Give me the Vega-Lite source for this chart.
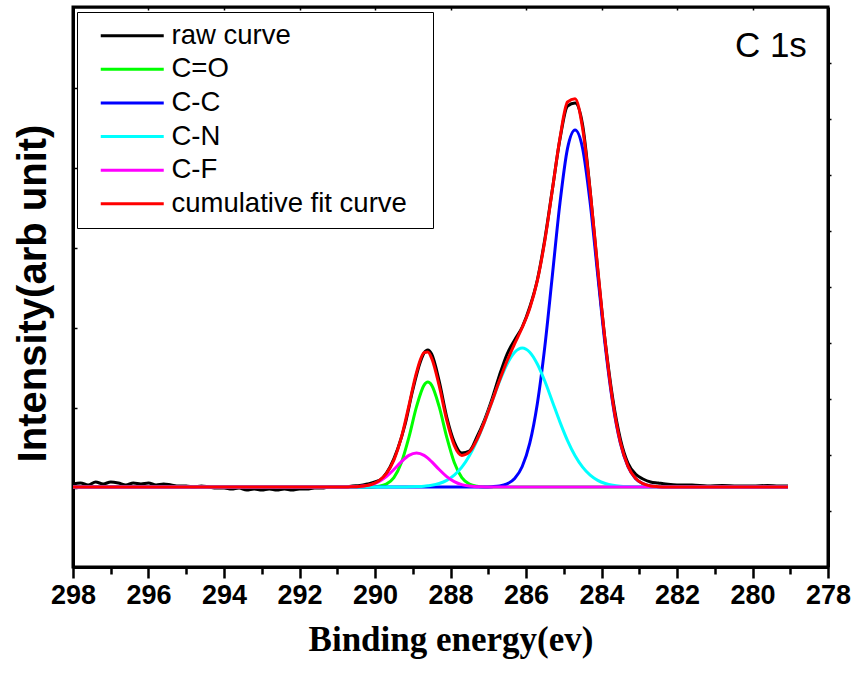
{
  "$schema": "https://vega.github.io/schema/vega-lite/v6.json",
  "width": 755,
  "height": 560,
  "autosize": {"type": "none"},
  "padding": {"left": 73, "top": 7, "right": 28, "bottom": 108},
  "background": "white",
  "config": {
    "view": {"stroke": "black", "strokeWidth": 3},
    "axis": {"grid": false, "domainColor": "black", "tickColor": "black", "labelColor": "black", "titleColor": "black"}
  },
  "resolve": {"axis": {"x": "independent", "y": "independent"}},
  "layer": [
    {
      "data": {"values": [
        {"x": 298.0, "raw": 3}, {"x": 297.8, "raw": 4}, {"x": 297.6, "raw": 2}, {"x": 297.4, "raw": 5},
        {"x": 297.2, "raw": 3}, {"x": 297.0, "raw": 5}, {"x": 296.8, "raw": 4}, {"x": 296.6, "raw": 2},
        {"x": 296.4, "raw": 4}, {"x": 296.2, "raw": 3}, {"x": 296.0, "raw": 4}, {"x": 295.8, "raw": 2},
        {"x": 295.6, "raw": 3}, {"x": 295.4, "raw": 2}, {"x": 295.2, "raw": 1}, {"x": 295.0, "raw": 1},
        {"x": 294.8, "raw": 0}, {"x": 294.6, "raw": 1}, {"x": 294.4, "raw": 0}, {"x": 294.2, "raw": -1},
        {"x": 294.0, "raw": -1}, {"x": 293.8, "raw": -2}, {"x": 293.6, "raw": -1}, {"x": 293.4, "raw": -3},
        {"x": 293.2, "raw": -2}, {"x": 293.0, "raw": -3}, {"x": 292.8, "raw": -2}, {"x": 292.6, "raw": -3},
        {"x": 292.4, "raw": -2}, {"x": 292.2, "raw": -3}, {"x": 292.0, "raw": -2}, {"x": 291.8, "raw": -2},
        {"x": 291.6, "raw": -1}, {"x": 291.4, "raw": -1}, {"x": 291.2, "raw": 0}, {"x": 291.0, "raw": 0},
        {"x": 290.8, "raw": 0}, {"x": 290.6, "raw": 1}, {"x": 290.4, "raw": 1.5}, {"x": 290.2, "raw": 3},
        {"x": 290.0, "raw": 5}, {"x": 289.8, "raw": 9}, {"x": 289.6, "raw": 20}, {"x": 289.4, "raw": 38},
        {"x": 289.2, "raw": 63}, {"x": 289.0, "raw": 97}, {"x": 288.8, "raw": 125}, {"x": 288.7, "raw": 134},
        {"x": 288.6, "raw": 137}, {"x": 288.5, "raw": 133}, {"x": 288.3, "raw": 106}, {"x": 288.1, "raw": 70},
        {"x": 287.9, "raw": 45}, {"x": 287.7, "raw": 34}, {"x": 287.5, "raw": 36}, {"x": 287.3, "raw": 50},
        {"x": 287.1, "raw": 67}, {"x": 286.9, "raw": 88}, {"x": 286.7, "raw": 112}, {"x": 286.5, "raw": 133},
        {"x": 286.3, "raw": 147}, {"x": 286.1, "raw": 160}, {"x": 285.9, "raw": 180}, {"x": 285.7, "raw": 207},
        {"x": 285.5, "raw": 248}, {"x": 285.3, "raw": 298}, {"x": 285.1, "raw": 348}, {"x": 284.9, "raw": 381},
        {"x": 284.7, "raw": 384}, {"x": 284.5, "raw": 362}, {"x": 284.3, "raw": 296}, {"x": 284.1, "raw": 217},
        {"x": 283.9, "raw": 145}, {"x": 283.7, "raw": 88}, {"x": 283.5, "raw": 48}, {"x": 283.3, "raw": 24},
        {"x": 283.1, "raw": 13}, {"x": 282.9, "raw": 8}, {"x": 282.7, "raw": 5}, {"x": 282.5, "raw": 4},
        {"x": 282.3, "raw": 3}, {"x": 282.0, "raw": 2}, {"x": 281.6, "raw": 2}, {"x": 281.2, "raw": 1},
        {"x": 280.8, "raw": 1.5}, {"x": 280.4, "raw": 1}, {"x": 280.0, "raw": 1}, {"x": 279.6, "raw": 1.5},
        {"x": 279.3, "raw": 1}, {"x": 279.06, "raw": 1}
      ]},
      "transform": [{"fold": ["raw"], "as": ["series", "y"]}],
      "mark": {"type": "line", "strokeWidth": 3, "interpolate": "monotone"},
      "encoding": {
        "x": {"field": "x", "type": "quantitative",
          "scale": {"domain": [278, 298], "reverse": true, "nice": false, "zero": false},
          "axis": {"orient": "bottom", "values": [279, 281, 283, 285, 287, 289, 291, 293, 295, 297], "labels": false, "tickSize": 7, "tickWidth": 2.5, "domain": false, "title": null}},
        "y": {"field": "y", "type": "quantitative",
          "scale": {"domain": [-80, 480], "nice": false, "zero": false},
          "axis": {"orient": "right", "values": [424, 368, 312, 256, 200, 144, 88, 32, -24], "labels": false, "tickSize": 3, "tickWidth": 1.5, "domainWidth": 3, "title": null}},
        "color": {"field": "series", "type": "nominal",
          "scale": {"domain": ["raw", "co", "cc", "cn", "cf", "fit"], "range": ["#000000", "#00ff00", "#0000ff", "#00ffff", "#ff00ff", "#ff0000"]},
          "legend": {"title": null, "orient": "none", "legendX": 4, "legendY": 5, "strokeColor": "black", "fillColor": "white", "padding": 10, "rowPadding": 4.6,
            "labelFont": "Liberation Sans", "labelFontSize": 27.5, "labelColor": "black", "labelOffset": 57, "labelLimit": 500,
            "labelExpr": "({'raw': 'raw curve', 'co': 'C=O', 'cc': 'C-C', 'cn': 'C-N', 'cf': 'C-F', 'fit': 'cumulative fit curve'})[datum.label] + '\u00a0\u00a0\u200b'",
            "symbolType": "M0,0H6.3", "symbolSize": 400, "symbolStrokeWidth": 3}}
      }
    },
    {
      "data": {"values": [
        {"x": 298, "co": 0, "cc": 0, "cn": 0, "cf": 0, "fit": 0},
        {"x": 296, "co": 0, "cc": 0, "cn": 0, "cf": 0, "fit": 0},
        {"x": 294, "co": 0, "cc": 0, "cn": 0, "cf": 0, "fit": 0},
        {"x": 292, "co": 0, "cc": 0, "cn": 0, "cf": 0, "fit": 0},
        {"x": 291.1, "co": 0, "cc": 0, "cn": 0, "cf": 0, "fit": 0},
        {"x": 290.9, "co": 0, "cc": 0, "cn": 0, "cf": 0, "fit": 0},
        {"x": 290.7, "co": 0, "cc": 0, "cn": 0, "cf": 0.1, "fit": 0.1},
        {"x": 290.5, "co": 0, "cc": 0, "cn": 0, "cf": 0.3, "fit": 0.3},
        {"x": 290.3, "co": 0, "cc": 0, "cn": 0, "cf": 0.9, "fit": 0.9},
        {"x": 290.1, "co": 0.1, "cc": 0, "cn": 0, "cf": 2.4, "fit": 2.5},
        {"x": 289.9, "co": 0.7, "cc": 0, "cn": 0, "cf": 5.4, "fit": 6.1},
        {"x": 289.7, "co": 2.9, "cc": 0, "cn": 0, "cf": 10.4, "fit": 13.3},
        {"x": 289.5, "co": 9.4, "cc": 0, "cn": 0, "cf": 17.5, "fit": 26.9},
        {"x": 289.3, "co": 24.5, "cc": 0, "cn": 0, "cf": 25.3, "fit": 49.8},
        {"x": 289.1, "co": 49.9, "cc": 0, "cn": 0.2, "cf": 31.6, "fit": 81.7},
        {"x": 288.9, "co": 80.3, "cc": 0, "cn": 0.4, "cf": 34, "fit": 114.7},
        {"x": 288.7, "co": 101.9, "cc": 0, "cn": 0.8, "cf": 31.6, "fit": 134.3},
        {"x": 288.6, "co": 105, "cc": 0, "cn": 1.2, "cf": 28.8, "fit": 135.0},
        {"x": 288.5, "co": 101.9, "cc": 0, "cn": 1.7, "cf": 25.3, "fit": 128.9},
        {"x": 288.3, "co": 80.3, "cc": 0, "cn": 3.5, "cf": 17.5, "fit": 101.3},
        {"x": 288.1, "co": 49.9, "cc": 0, "cn": 6.6, "cf": 10.4, "fit": 66.9},
        {"x": 287.9, "co": 24.5, "cc": 0, "cn": 11.8, "cf": 5.4, "fit": 41.7},
        {"x": 287.7, "co": 9.4, "cc": 0, "cn": 19.8, "cf": 2.4, "fit": 31.6},
        {"x": 287.5, "co": 2.9, "cc": 0, "cn": 31.2, "cf": 0.9, "fit": 35.0},
        {"x": 287.3, "co": 0.7, "cc": 0, "cn": 46.4, "cf": 0.3, "fit": 47.4},
        {"x": 287.1, "co": 0.1, "cc": 0, "cn": 64.9, "cf": 0.1, "fit": 65.1},
        {"x": 286.9, "co": 0, "cc": 0.3, "cn": 85.3, "cf": 0, "fit": 85.6},
        {"x": 286.7, "co": 0, "cc": 1.0, "cn": 105.7, "cf": 0, "fit": 106.7},
        {"x": 286.5, "co": 0, "cc": 3.2, "cn": 123.0, "cf": 0, "fit": 126.2},
        {"x": 286.3, "co": 0, "cc": 8.5, "cn": 134.8, "cf": 0, "fit": 143.3},
        {"x": 286.1, "co": 0, "cc": 20.5, "cn": 139, "cf": 0, "fit": 159.5},
        {"x": 285.9, "co": 0, "cc": 43.8, "cn": 134.8, "cf": 0, "fit": 178.6},
        {"x": 285.7, "co": 0, "cc": 83.3, "cn": 123.0, "cf": 0, "fit": 206.3},
        {"x": 285.5, "co": 0, "cc": 140.9, "cn": 105.7, "cf": 0, "fit": 246.6},
        {"x": 285.3, "co": 0, "cc": 212.2, "cn": 85.3, "cf": 0, "fit": 297.5},
        {"x": 285.1, "co": 0, "cc": 284.1, "cn": 64.9, "cf": 0, "fit": 349.0},
        {"x": 284.9, "co": 0, "cc": 338.6, "cn": 46.4, "cf": 0, "fit": 385.0},
        {"x": 284.7, "co": 0, "cc": 357, "cn": 31.2, "cf": 0, "fit": 388.2},
        {"x": 284.5, "co": 0, "cc": 338.6, "cn": 19.8, "cf": 0, "fit": 358.4},
        {"x": 284.3, "co": 0, "cc": 284.1, "cn": 11.8, "cf": 0, "fit": 295.9},
        {"x": 284.1, "co": 0, "cc": 212.2, "cn": 6.6, "cf": 0, "fit": 218.8},
        {"x": 283.9, "co": 0, "cc": 140.9, "cn": 3.5, "cf": 0, "fit": 144.4},
        {"x": 283.7, "co": 0, "cc": 83.3, "cn": 1.7, "cf": 0, "fit": 85.0},
        {"x": 283.5, "co": 0, "cc": 43.8, "cn": 0.8, "cf": 0, "fit": 44.6},
        {"x": 283.3, "co": 0, "cc": 20.5, "cn": 0.4, "cf": 0, "fit": 20.9},
        {"x": 283.1, "co": 0, "cc": 8.5, "cn": 0.2, "cf": 0, "fit": 8.7},
        {"x": 282.9, "co": 0, "cc": 3.2, "cn": 0.1, "cf": 0, "fit": 3.3},
        {"x": 282.7, "co": 0, "cc": 1.0, "cn": 0, "cf": 0, "fit": 1.0},
        {"x": 282.5, "co": 0, "cc": 0.3, "cn": 0, "cf": 0, "fit": 0.3},
        {"x": 282.3, "co": 0, "cc": 0, "cn": 0, "cf": 0, "fit": 0},
        {"x": 281, "co": 0, "cc": 0, "cn": 0, "cf": 0, "fit": 0},
        {"x": 280, "co": 0, "cc": 0, "cn": 0, "cf": 0, "fit": 0},
        {"x": 279.06, "co": 0, "cc": 0, "cn": 0, "cf": 0, "fit": 0}
      ]},
      "transform": [{"fold": ["co", "cc", "cn", "cf", "fit"], "as": ["series", "y"]}],
      "mark": {"type": "line", "strokeWidth": 3, "interpolate": "monotone"},
      "encoding": {
        "x": {"field": "x", "type": "quantitative",
          "scale": {"domain": [278, 298], "reverse": true, "nice": false, "zero": false},
          "axis": {"orient": "bottom", "values": [278, 280, 282, 284, 286, 288, 290, 292, 294, 296, 298], "format": "d",
            "labelFont": "Liberation Sans", "labelFontWeight": "bold", "labelFontSize": 27, "labelPadding": 4, "labelFlush": false, "labelOverlap": false,
            "tickSize": 11, "tickWidth": 2.5, "domainWidth": 3,
            "title": "Binding energy(ev)", "titleFont": "Liberation Serif", "titleFontWeight": "bold", "titleFontSize": 35, "titlePadding": 14}},
        "y": {"field": "y", "type": "quantitative",
          "scale": {"domain": [-80, 480], "nice": false, "zero": false},
          "axis": {"orient": "left", "values": [-1, 79, 159, 239, 319, 399], "labels": false, "tickSize": -4, "tickWidth": 1.5, "domainWidth": 3,
            "title": "Intensity(arb unit)", "titleFont": "Liberation Sans", "titleFontWeight": "bold", "titleFontSize": 40, "titlePadding": 19, "titleY": 286}},
        "color": {"field": "series", "type": "nominal"}
      }
    },
    {
      "data": {"values": [{"label": "C 1s"}]},
      "mark": {"type": "text", "align": "right", "baseline": "alphabetic", "font": "Liberation Sans", "fontSize": 35, "color": "black"},
      "encoding": {
        "x": {"datum": 278.56, "type": "quantitative",
          "axis": {"orient": "top", "values": [280, 282, 284, 286, 288, 290, 292, 294, 296], "labels": false, "tickSize": -3, "tickWidth": 1.5, "domainWidth": 2, "title": null}},
        "y": {"datum": 430, "type": "quantitative", "axis": null},
        "text": {"field": "label", "type": "nominal"}
      }
    }
  ]
}
